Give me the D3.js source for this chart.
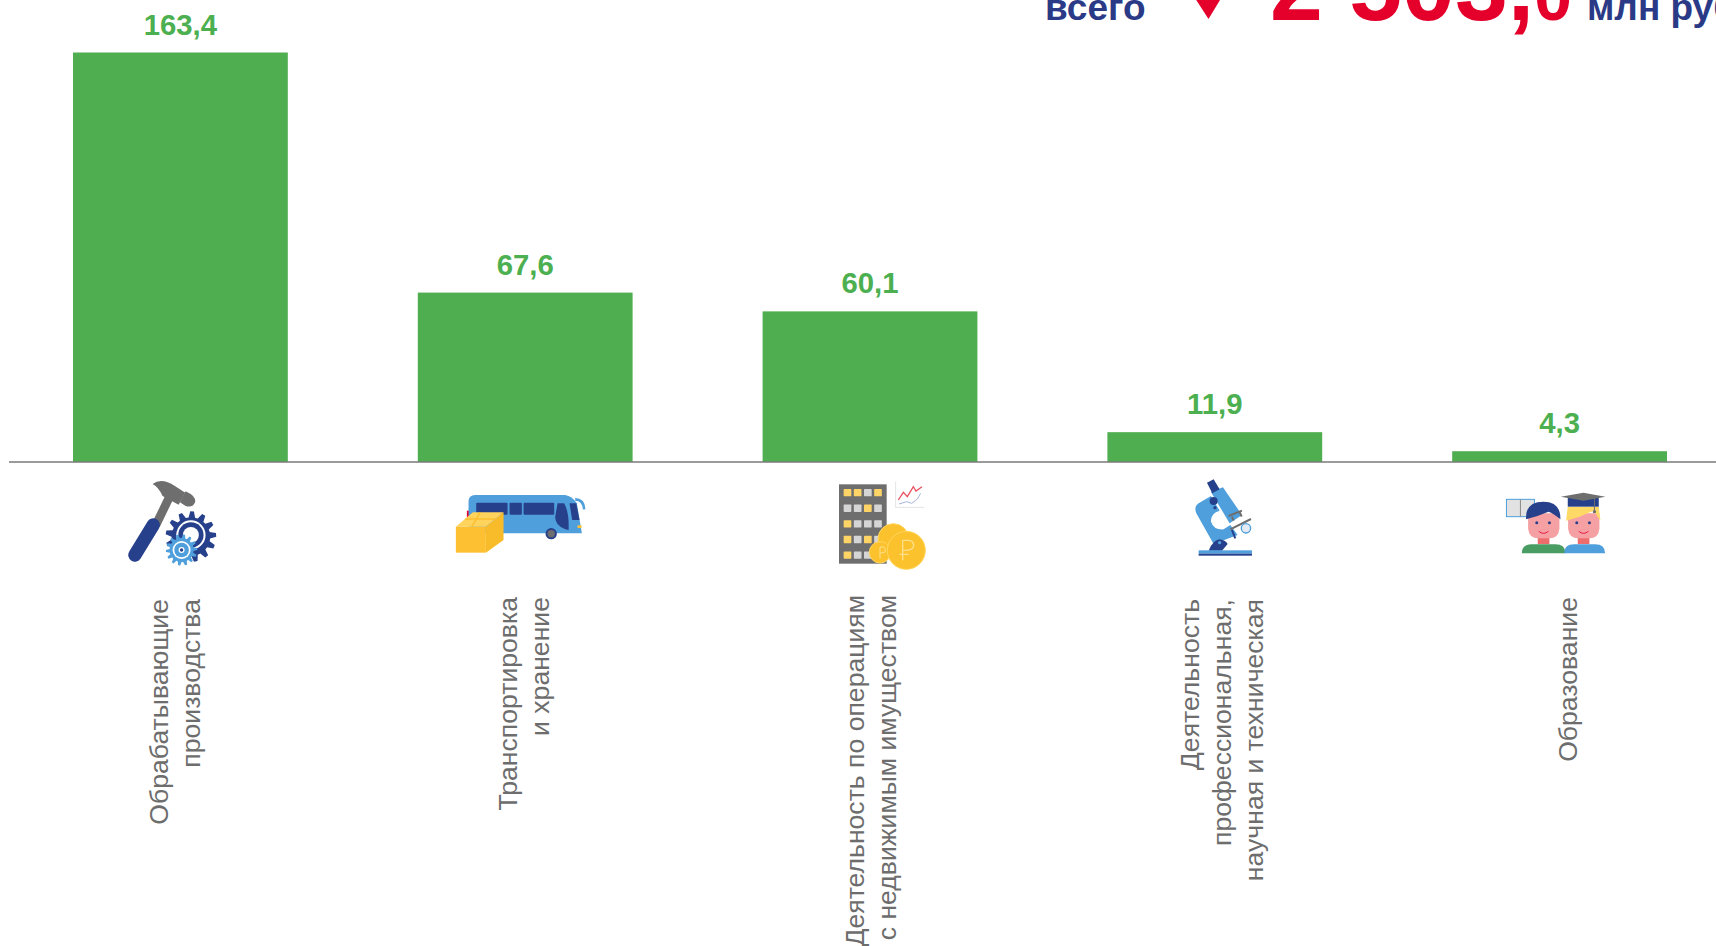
<!DOCTYPE html>
<html lang="ru"><head><meta charset="utf-8">
<script src="https://cdn.jsdelivr.net/npm/d3@7"></script>
<style>html,body{margin:0;padding:0;background:#fff;overflow:hidden}svg{display:block}text{font-family:"Liberation Sans",Arial,sans-serif}</style>
</head><body><div id="chart"></div>
<script>
const categories = ["manufacturing","transport","realty","science","education"];
const values = [163.4,67.6,60.1,11.9,4.3];
const valueLabels = ["163,4","67,6","60,1","11,9","4,3"];
const labelLines = [
  ["Обрабатывающие","производства"],
  ["Транспортировка","и хранение"],
  ["Деятельность по операциям","с недвижимым имуществом"],
  ["Деятельность","профессиональная,","научная и техническая"],
  ["Образование"]
];
const labelShift = [3.5,8,10,16.5,17.5];
const labelTop = [599,597,595,599,597];
const totalWord = "всего", totalMain = "2 503,", totalLast = "0", totalUnit = "млн руб.";

const W=1716,H=946;
const svg=d3.select("#chart").append("svg").attr("width",W).attr("height",H);
const x=d3.scaleBand().domain(categories).range([73,1667]).paddingInner(0.377).paddingOuter(0);
const y=d3.scaleLinear().domain([0,163.4]).range([462,52.5]);
const cx=c=>x(c)+x.bandwidth()/2;

svg.append("defs").append("filter").attr("id","soft").append("feGaussianBlur").attr("stdDeviation",0.45);

svg.selectAll("rect.bar").data(values).join("rect").attr("class","bar")
  .attr("x",(d,i)=>x(categories[i])).attr("width",x.bandwidth())
  .attr("y",d=>y(d)).attr("height",d=>y(0)-y(d)).attr("fill","#4FAE50");
svg.append("line").attr("x1",9).attr("x2",W).attr("y1",y(0)).attr("y2",y(0)).attr("stroke","#7a7a7a").attr("stroke-width",1.5);

svg.selectAll("text.val").data(values).join("text").attr("class","val")
  .attr("x",(d,i)=>cx(categories[i])).attr("y",d=>y(d)-18)
  .attr("text-anchor","middle").attr("font-weight","bold").attr("font-size",29.3).attr("fill","#4CAF50")
  .text((d,i)=>valueLabels[i]);

categories.forEach((c,i)=>{
  const n=labelLines[i].length;
  labelLines[i].forEach((t,j)=>{
    const bx=cx(c)+labelShift[i]+(j-(n-1)/2)*32;
    svg.append("text").attr("transform",`translate(${bx},${labelTop[i]}) rotate(-90)`)
      .attr("text-anchor","end").attr("font-size",26.6).attr("fill","#6d6d6d").text(t);
  });
});

// header
const nav="#2A3A86", red="#E4002B";
svg.append("text").attr("x",1045).attr("y",19.5).attr("font-size",37).attr("font-weight","bold").attr("fill",nav).text(totalWord);
svg.append("path").attr("d","M1193,-5L1223,-5L1208.5,19Z").attr("fill",red);
const big=svg.append("text").attr("x",1270).attr("y",19.5).attr("font-size",95).attr("font-weight","bold").attr("fill",red);
big.append("tspan").text(totalMain);
big.append("tspan").attr("font-size",68).text(totalLast);
svg.append("text").attr("x",1587).attr("y",20).attr("font-size",37).attr("font-weight","bold").attr("fill",nav).text(totalUnit);

// icons: drawn at 3x in local crop coordinates
function icon(i,ox,oy,refCx){
  return svg.append("g").attr("filter","url(#soft)")
    .attr("transform",`translate(${cx(categories[i])+ox-refCx},${oy}) scale(${1/3})`);
}
function gear(g,cxx,cyy,R,r,teeth,fill){
  const pts=[];
  for(let k=0;k<teeth;k++){
    const a=k/teeth*2*Math.PI,s=2*Math.PI/teeth;
    [[r,-.5],[R,-.3],[R,.0],[r,.2]].forEach(([rad,o])=>{
      const t=a+o*s;pts.push([cxx+rad*Math.cos(t),cyy+rad*Math.sin(t)]);
    });
  }
  g.append("polygon").attr("points",pts.join(" ")).attr("fill",fill);
}
const navy="#27408B", sky="#4F9FDC", gold="#FDC030", grey="#6E6E6E";

// hammer + gears
{ const g=icon(0,120,470,180.5);
  g.append("line").attr("x1",108).attr("y1",165).attr("x2",150).attr("y2",78).attr("stroke",grey).attr("stroke-width",26);
  g.append("line").attr("x1",45).attr("y1",255).attr("x2",100).attr("y2",165).attr("stroke",navy).attr("stroke-width",40).attr("stroke-linecap","round");
  g.append("path").attr("d","M98,42Q125,22 165,48L196,68L176,104L128,78Q115,50 98,42Z").attr("fill",grey);
  g.append("path").attr("d","M197,64Q228,78 226,95Q218,116 196,107L180,97Z").attr("fill",grey);
  gear(g,213,200,76,58,13,navy);
  g.append("circle").attr("cx",213).attr("cy",195).attr("r",44).attr("fill","#fff");
  g.append("circle").attr("cx",213).attr("cy",195).attr("r",38).attr("fill",navy);
  g.append("circle").attr("cx",213).attr("cy",195).attr("r",24).attr("fill","#fff");
  gear(g,185,240,47,36,14,sky);
  g.append("circle").attr("cx",185).attr("cy",240).attr("r",27).attr("fill","#fff");
  g.append("circle").attr("cx",185).attr("cy",240).attr("r",22).attr("fill",sky);
  g.append("circle").attr("cx",185).attr("cy",240).attr("r",9).attr("fill","#fff");
  g.append("circle").attr("cx",185).attr("cy",240).attr("r",5).attr("fill",navy);
}
// bus + box
{ const g=icon(1,440,480,525);
  g.append("rect").attr("x",80).attr("y",92).attr("width",8).attr("height",20).attr("fill",red);
  g.append("path").attr("d","M85,65Q85,45 105,45L375,45Q395,48 410,70L425,160L85,160Z").attr("fill",sky);
  g.append("path").attr("d","M405,58Q430,58 432,88").attr("fill","none").attr("stroke",sky).attr("stroke-width",8);
  [[108,94],[208,37],[250,92]].forEach(([a,w])=>g.append("rect").attr("x",a).attr("y",68).attr("width",w).attr("height",36).attr("rx",3).attr("fill",navy));
  g.append("path").attr("d","M352,70L372,70Q388,100 385,150Q345,140 345,110Z").attr("fill",navy);
  g.append("path").attr("d","M388,70L408,70L418,120L396,120Z").attr("fill",navy);
  g.append("rect").attr("x",412).attr("y",136).attr("width",12).attr("height",8).attr("fill",gold);
  g.append("circle").attr("cx",333).attr("cy",161).attr("r",17).attr("fill",navy);
  g.append("circle").attr("cx",333).attr("cy",161).attr("r",11).attr("fill",grey);
  g.append("polygon").attr("points","47,140 137,140 137,218 47,218").attr("fill",gold);
  g.append("polygon").attr("points","137,140 190,97 190,180 137,218").attr("fill","#F8BC2B");
  g.append("polygon").attr("points","47,140 98,97 190,97 137,140").attr("fill","#FFD35C");
  g.append("path").attr("d","M75,117L165,117M120,97L95,140").attr("stroke",gold).attr("stroke-width",5).attr("fill","none");
}
// building + coins
{ const g=icon(2,830,475,870);
  g.append("rect").attr("x",27).attr("y",28).attr("width",143).attr("height",238).attr("fill",grey);
  const rows=[["y","y","g","y"],["g","g","y","g"],["y","g","g","g"],["y","g","y","g"],["y","g","g","g"]];
  rows.forEach((r,a)=>r.forEach((v,b)=>g.append("rect").attr("x",41+b*30.5).attr("y",42+a*46.8).attr("width",23).attr("height",22).attr("rx",2).attr("fill",v==="y"?"#FFD466":"#D5D5D5")));
  g.append("path").attr("d","M197,20L197,97L282,97").attr("fill","none").attr("stroke","#e3e3e3").attr("stroke-width",3);
  g.append("path").attr("d","M205,75L220,52L232,65L250,35L258,48L276,35").attr("fill","none").attr("stroke","#E8515F").attr("stroke-width",4);
  g.append("path").attr("d","M207,87L230,80L245,85L262,72L272,55").attr("fill","none").attr("stroke","#A9B4DC").attr("stroke-width",3);
  [[190,192,46],[150,232,32],[229,226,57]].forEach(([a,b,r])=>{
    g.append("circle").attr("cx",a).attr("cy",b).attr("r",r).attr("fill","#FCC22F").attr("stroke","#FFD65C").attr("stroke-width",3);
  });
  g.append("path").attr("d","M218,256L218,196L238,196Q254,200 250,216Q244,228 218,226M208,238L236,238").attr("fill","none").attr("stroke","#FFE08A").attr("stroke-width",4);
  g.append("path").attr("d","M150,250L150,216L162,216Q170,222 164,232L150,234").attr("fill","none").attr("stroke","#FFE08A").attr("stroke-width",3);
}
// microscope
{ const g=icon(3,1180,470,1214.5);
  g.append("path").attr("d","M55,100Q40,110 48,130L100,222L172,195L150,165L130,178Q100,180 92,155Q90,130 118,122L92,78Z").attr("fill",sky);
  g.append("path").attr("d","M92,66L128,52L185,135L148,160Z").attr("fill",sky);
  g.append("polygon").attr("points","80,38 100,28 118,58 96,70").attr("fill",navy);
  g.append("circle").attr("cx",100).attr("cy",93).attr("r",12).attr("fill",navy);
  g.append("circle").attr("cx",104).attr("cy",113).attr("r",5).attr("fill",navy);
  g.append("path").attr("d","M145,138L185,122M155,140L160,152M178,126L184,140").attr("stroke",grey).attr("stroke-width",6).attr("fill","none");
  g.append("path").attr("d","M150,178L212,147").attr("stroke",grey).attr("stroke-width",6);
  g.append("path").attr("d","M155,180L165,205").attr("stroke",navy).attr("stroke-width",6);
  g.append("circle").attr("cx",197).attr("cy",175).attr("r",14).attr("fill","#E4EAF6").attr("stroke",sky).attr("stroke-width",4);
  g.append("path").attr("d","M85,242Q98,210 118,208Q138,212 142,222L125,242Z").attr("fill",navy);
  g.append("circle").attr("cx",118).attr("cy",218).attr("r",5).attr("fill",sky);
  g.append("rect").attr("x",55).attr("y",241).attr("width",160).attr("height",10).attr("fill",sky);
  g.append("rect").attr("x",55).attr("y",251).attr("width",160).attr("height",6).attr("fill",navy);
}
// students
{ const g=icon(4,1440,400,1559.5);
  g.append("rect").attr("x",199).attr("y",298).attr("width",84).attr("height",52).attr("fill","#E2E2E2").attr("stroke",sky).attr("stroke-width",3);
  g.append("line").attr("x1",241).attr("x2",241).attr("y1",298).attr("y2",350).attr("stroke","#888").attr("stroke-width",3);
  const kid=(dx,shirt,w0,w1)=>{
    g.append("rect").attr("x",293+dx).attr("y",408).attr("width",35).attr("height",24).attr("fill","#EF6C6C");
    g.append("path").attr("d",`M${w0},460Q${w0},433 ${w0+30},433L${w1-30},433Q${w1},433 ${w1},460Z`).attr("fill",shirt);
    g.append("path").attr("d",`M${264+dx},340L${264+dx},385Q${266+dx},415 ${295+dx},415L${328+dx},415Q${356+dx},415 ${358+dx},385L${358+dx},340Z`).attr("fill","#F5A0A2");
    [290,328].forEach(e=>g.append("circle").attr("cx",e+dx).attr("cy",368).attr("r",4.5).attr("fill",navy));
    g.append("path").attr("d",`M${296+dx},394Q${310+dx},406 ${325+dx},394`).attr("fill","none").attr("stroke",red).attr("stroke-width",2.5);
  };
  kid(0,"#4A9D63",245,376); kid(120,sky,372,495);
  g.append("path").attr("d","M258,358Q255,305 310,305Q362,305 361,358Q340,340 325,335Q290,350 258,358Z").attr("fill",navy);
  g.append("path").attr("d","M378,362L383,320L476,320L481,362Q470,345 460,332Q420,352 378,362Z").attr("fill","#FFD966");
  g.append("rect").attr("x",383).attr("y",292).attr("width",93).attr("height",28).attr("fill",navy);
  g.append("polygon").attr("points","362,290 430,278 496,290 430,302").attr("fill",grey);
  g.append("line").attr("x1",463).attr("x2",463).attr("y1",294).attr("y2",335).attr("stroke",grey).attr("stroke-width",3);
  g.append("circle").attr("cx",463).attr("cy",335).attr("r",5).attr("fill",grey);
}
</script></body></html>
